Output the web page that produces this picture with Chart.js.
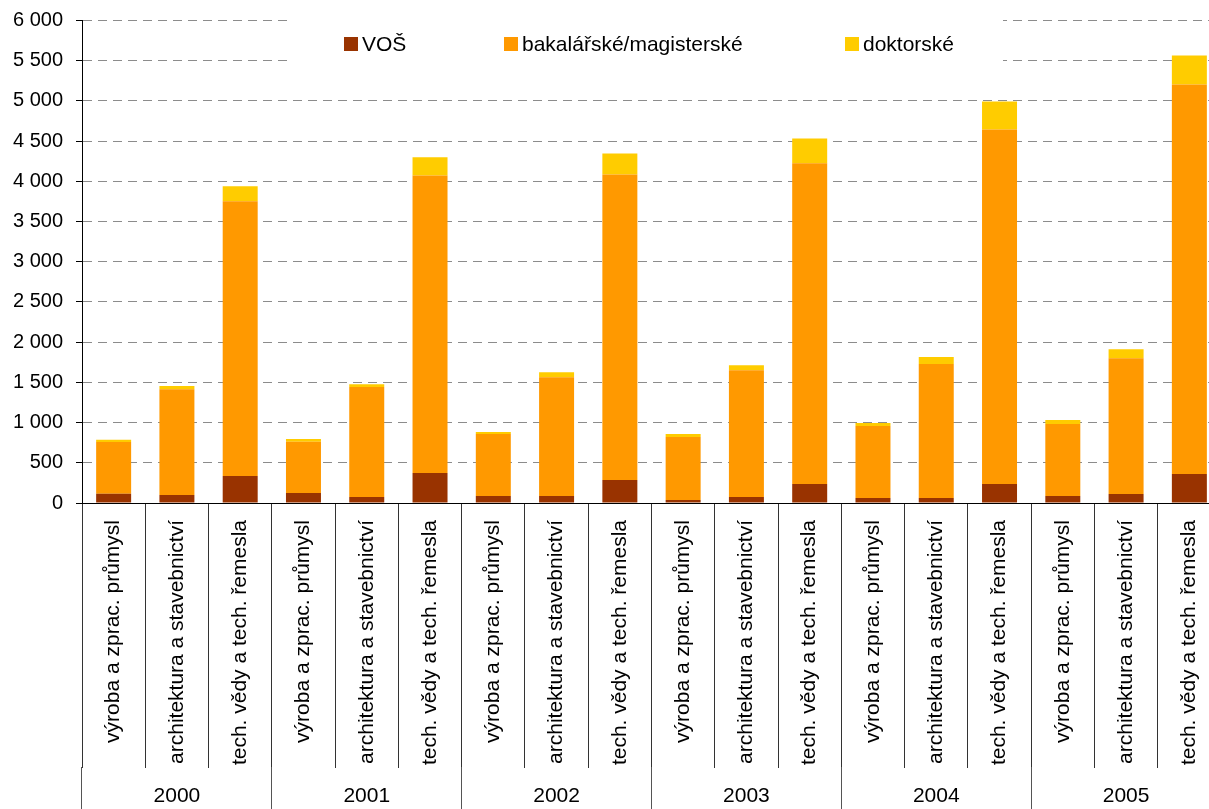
<!DOCTYPE html>
<html lang="cs">
<head>
<meta charset="utf-8">
<title>Absolventi technických oborů 2000–2005</title>
<script src="https://cdn.jsdelivr.net/npm/chart.js@4/dist/chart.umd.min.js"></script>
<style>
html, body { margin: 0; padding: 0; background: #fff; overflow: hidden; }
#wrap { width: 1221px; height: 809px; }
</style>
</head>
<body>
<div id="wrap"><canvas id="chart"></canvas></div>
<script>
// roky a obory (v každém roce stejné tři obory)
const years = ['2000', '2001', '2002', '2003', '2004', '2005'];
const fields = ['výroba a zprac. průmysl', 'architektura a stavebnictví', 'tech. vědy a tech. řemesla'];

// absolventi podle typu studia, po rocích v pořadí oborů
const vos = [115, 100, 335, 125, 75, 373, 87, 87, 286, 37, 75, 236, 62, 62, 236, 87, 112, 360];
const bak = [645, 1316, 3417, 637, 1366, 3700, 770, 1478, 3800, 783, 1577, 3988, 895, 1665, 4410, 894, 1689, 4845];
const dok = [25, 40, 186, 33, 37, 225, 25, 62, 260, 37, 62, 310, 37, 87, 348, 50, 112, 360];

const seriesNames = ['VOŠ', 'bakalářské/magisterské', 'doktorské'];
const seriesColors = ['#993300', '#ff9900', '#ffcc00'];

// popisky osy x: obor pro každý rok
var labels = [];
years.forEach(y => {
    fields.forEach(f => labels.push(f));
});

Chart.defaults.font.family = '"Liberation Sans", Arial, sans-serif';
Chart.defaults.color = '#000';

// mezery jako oddělovač tisíců
function fmt(v){
    return String(v).replace(/\B(?=(\d{3})+(?!\d))/g, ' ');
}

// legenda uvnitř grafu na bílém podkladu
const boxLegend = {
    id: 'boxLegend',
    beforeDatasetsDraw(chart){
        const ctx = chart.ctx;
        const xs = [344, 504, 845];
        ctx.save();
        ctx.fillStyle = '#fff';
        ctx.fillRect(290, 0, 713, 80);
        ctx.font = '21px "Liberation Sans", Arial, sans-serif';
        ctx.textBaseline = 'alphabetic';
        chart.data.datasets.forEach((ds, i) => {
            ctx.fillStyle = ds.backgroundColor;
            ctx.fillRect(xs[i], 37, 14, 14);
            ctx.fillStyle = '#000';
            ctx.fillText(ds.label, xs[i] + 18, 51);
        });
        ctx.restore();
    }
};

const data = {
    labels: labels,
    datasets: [vos, bak, dok].map((d, i) => ({
        label: seriesNames[i],
        data: d,
        backgroundColor: seriesColors[i],
        barPercentage: 0.553,
        categoryPercentage: 1
    }))
};

new Chart(document.getElementById('chart'), {
    type: 'bar',
    data: data,
    plugins: [boxLegend],
    options: {
        responsive: true,
        maintainAspectRatio: false,
        animation: false,
        layout: { padding: { top: 20.5, left: 0, right: 0, bottom: 0 } },
        plugins: {
            legend: { display: false },
            tooltip: { enabled: false }
        },
        scales: {
            x: {
                stacked: true,
                offset: true,
                ticks: {
                    autoSkip: false,
                    minRotation: 90,
                    maxRotation: 90,
                    padding: -248,
                    font: { size: 21 }
                },
                grid: { offset: true, drawOnChartArea: false, tickLength: 265, color: '#333' },
                border: { color: '#000', width: 1 },
                afterFit(scale){ scale.height = 264; }
            },
            x2: {
                type: 'category',
                labels: years,
                position: 'bottom',
                offset: true,
                ticks: { padding: -25, font: { size: 21 } },
                grid: { offset: true, drawOnChartArea: false, tickLength: 42, color: '#555' },
                border: { display: false },
                afterFit(scale){ scale.height = 42; }
            },
            y: {
                stacked: true,
                min: 0,
                max: 6000,
                ticks: {
                    stepSize: 500,
                    padding: 13,
                    font: { size: 20 },
                    callback: v => fmt(v)
                },
                grid: {
                    color: c => c.tick && c.tick.value === 0 ? 'rgba(0,0,0,0)' : '#8c8c8c',
                    tickLength: 6,
                    tickColor: '#000'
                },
                border: { color: '#000', width: 1, dash: [9, 6] },
                afterFit(scale){
                    scale.width = 82;
                    scale.paddingTop = 0;
                    scale.paddingBottom = 0;
                }
            }
        }
    }
});
</script>
</body>
</html>
